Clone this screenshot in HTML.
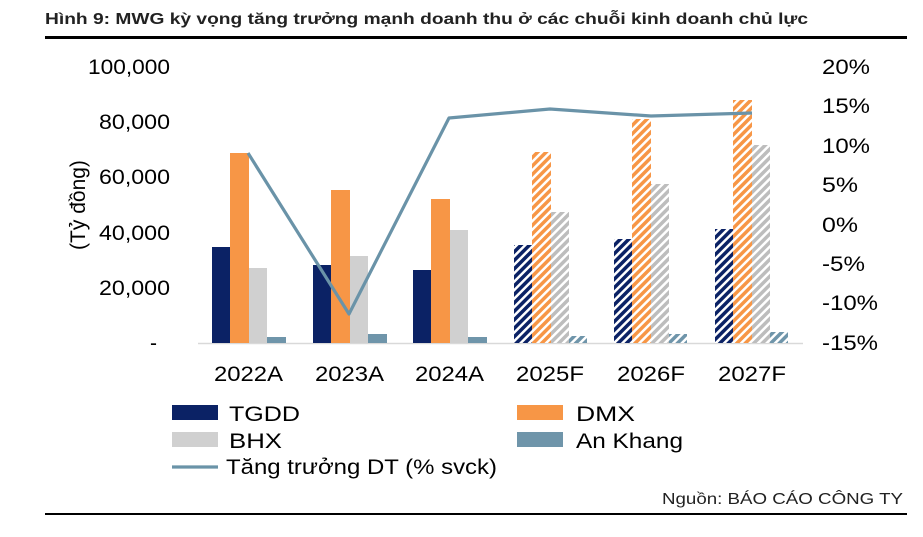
<!DOCTYPE html>
<html><head><meta charset="utf-8"><style>
body{margin:0;background:#fff;}
svg text{font-family:"Liberation Sans",Arial,sans-serif;}
</style></head><body>
<svg width="923" height="532" viewBox="0 0 923 532" xmlns="http://www.w3.org/2000/svg">
<defs>
<pattern id="pN" width="6" height="6" patternUnits="userSpaceOnUse" patternTransform="rotate(45)"><rect width="6" height="6" fill="#fff"/><rect width="3.5" height="6" fill="#0b2265"/></pattern>
<pattern id="pO" width="6" height="6" patternUnits="userSpaceOnUse" patternTransform="rotate(45)"><rect width="6" height="6" fill="#fff"/><rect width="3.5" height="6" fill="#f79646"/></pattern>
<pattern id="pG" width="6" height="6" patternUnits="userSpaceOnUse" patternTransform="rotate(45)"><rect width="6" height="6" fill="#fff"/><rect width="3.5" height="6" fill="#bdbdbd"/></pattern>
<pattern id="pA" width="6" height="6" patternUnits="userSpaceOnUse" patternTransform="rotate(45)"><rect width="6" height="6" fill="#fff"/><rect width="3.5" height="6" fill="#6f95aa"/></pattern>
</defs>
<text x="45" y="24" font-size="16" font-weight="bold" fill="#222" textLength="763" lengthAdjust="spacingAndGlyphs">Hình 9: MWG kỳ vọng tăng trưởng mạnh doanh thu ở các chuỗi kinh doanh chủ lực</text>
<rect x="45" y="36" width="862" height="3" fill="#000"/>
<rect x="45" y="513" width="862" height="2" fill="#000"/>
<g font-size="21" fill="#000">
<text x="88" y="74" textLength="82" lengthAdjust="spacingAndGlyphs">100,000</text>
<text x="99" y="129" textLength="71" lengthAdjust="spacingAndGlyphs">80,000</text>
<text x="99" y="184" textLength="71" lengthAdjust="spacingAndGlyphs">60,000</text>
<text x="99" y="240" textLength="71" lengthAdjust="spacingAndGlyphs">40,000</text>
<text x="99" y="295" textLength="71" lengthAdjust="spacingAndGlyphs">20,000</text>
<text x="150" y="350">-</text>
</g>
<g font-size="21" fill="#000">
<text x="822" y="74" textLength="48" lengthAdjust="spacingAndGlyphs">20%</text>
<text x="822" y="113" textLength="48" lengthAdjust="spacingAndGlyphs">15%</text>
<text x="822" y="153" textLength="48" lengthAdjust="spacingAndGlyphs">10%</text>
<text x="822" y="192" textLength="36" lengthAdjust="spacingAndGlyphs">5%</text>
<text x="822" y="232" textLength="36" lengthAdjust="spacingAndGlyphs">0%</text>
<text x="822" y="271" textLength="43" lengthAdjust="spacingAndGlyphs">-5%</text>
<text x="822" y="310" textLength="56" lengthAdjust="spacingAndGlyphs">-10%</text>
<text x="822" y="350" textLength="56" lengthAdjust="spacingAndGlyphs">-15%</text>
</g>
<text transform="translate(85,205) rotate(-90)" font-size="21" text-anchor="middle">(Tỷ đồng)</text>
<line x1="198" y1="343.5" x2="803" y2="343.5" stroke="#d9d9d9" stroke-width="1.5"/>
<g>
<rect x="212" y="247" width="18" height="96" fill="#0b2265"/><rect x="230" y="153" width="19" height="190" fill="#f79646"/><rect x="249" y="268" width="18" height="75" fill="#d0d0d0"/><rect x="267" y="337" width="19" height="6" fill="#6f95aa"/>
<rect x="313" y="265" width="18" height="78" fill="#0b2265"/><rect x="331" y="190" width="19" height="153" fill="#f79646"/><rect x="350" y="256" width="18" height="87" fill="#d0d0d0"/><rect x="368" y="334" width="19" height="9" fill="#6f95aa"/>
<rect x="413" y="270" width="18" height="73" fill="#0b2265"/><rect x="431" y="199" width="19" height="144" fill="#f79646"/><rect x="450" y="230" width="18" height="113" fill="#d0d0d0"/><rect x="468" y="337" width="19" height="6" fill="#6f95aa"/>
<rect x="514" y="245" width="18" height="98" fill="url(#pN)"/><rect x="532" y="152" width="19" height="191" fill="url(#pO)"/><rect x="551" y="212" width="18" height="131" fill="url(#pG)"/><rect x="569" y="336" width="18" height="7" fill="url(#pA)"/>
<rect x="614" y="239" width="18" height="104" fill="url(#pN)"/><rect x="632" y="119" width="19" height="224" fill="url(#pO)"/><rect x="651" y="184" width="18" height="159" fill="url(#pG)"/><rect x="669" y="334" width="18" height="9" fill="url(#pA)"/>
<rect x="715" y="229" width="18" height="114" fill="url(#pN)"/><rect x="733" y="100" width="19" height="243" fill="url(#pO)"/><rect x="752" y="145" width="18" height="198" fill="url(#pG)"/><rect x="770" y="332" width="18" height="11" fill="url(#pA)"/>
</g>
<polyline points="248,153 349,314 449,118 550,109 651,116 752,113" fill="none" stroke="#6a93a8" stroke-width="3.2" stroke-linejoin="round"/>
<g font-size="21">
<text x="214" y="381" textLength="69" lengthAdjust="spacingAndGlyphs">2022A</text>
<text x="315" y="381" textLength="69" lengthAdjust="spacingAndGlyphs">2023A</text>
<text x="415" y="381" textLength="69" lengthAdjust="spacingAndGlyphs">2024A</text>
<text x="516" y="381" textLength="68" lengthAdjust="spacingAndGlyphs">2025F</text>
<text x="617" y="381" textLength="68" lengthAdjust="spacingAndGlyphs">2026F</text>
<text x="718" y="381" textLength="68" lengthAdjust="spacingAndGlyphs">2027F</text>
</g>
<g font-size="21">
<rect x="172" y="405" width="46" height="15" fill="#0b2265"/><text x="229" y="421" textLength="71" lengthAdjust="spacingAndGlyphs">TGDD</text>
<rect x="517" y="405" width="46" height="15" fill="#f79646"/><text x="576" y="421" textLength="59" lengthAdjust="spacingAndGlyphs">DMX</text>
<rect x="172" y="432" width="46" height="15" fill="#d0d0d0"/><text x="229" y="448" textLength="53" lengthAdjust="spacingAndGlyphs">BHX</text>
<rect x="517" y="432" width="46" height="15" fill="#6f95aa"/><text x="576" y="448" textLength="107" lengthAdjust="spacingAndGlyphs">An Khang</text>
<line x1="172" y1="467" x2="218" y2="467" stroke="#6a93a8" stroke-width="3.2"/><text x="226" y="474" textLength="271" lengthAdjust="spacingAndGlyphs">Tăng trưởng DT (% svck)</text>
</g>
<text x="662" y="504" font-size="16" fill="#222" textLength="241" lengthAdjust="spacingAndGlyphs">Nguồn: BÁO CÁO CÔNG TY</text>
</svg>
</body></html>
